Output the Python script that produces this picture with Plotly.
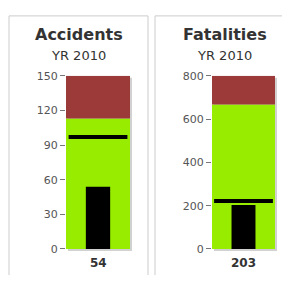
import plotly.graph_objects as go

# ---- data ----
titles = ["Accidents", "Fatalities"]
subtitles = ["YR 2010", "YR 2010"]
actual_values = [54, 203]
target_values = [97, 222]
green_upper = [113, 668]
axis_max = [150, 800]
tick_values = [[0, 30, 60, 90, 120, 150], [0, 200, 400, 600, 800]]

OFF = 8  # page body margin
W, H = 290 - 2 * OFF, 283 - 2 * OFF
GREEN = "#97ec00"
RED = "#9c3a3a"
FONT = "DejaVu Sans, Verdana, sans-serif"

def px(v):
    return (v - OFF) / W

def py(v):
    return 1 - (v - OFF) / H

# plot area pixel boxes (x0, x1) and shared y (top, bottom), in window pixels
x_boxes = [(66, 130), (212, 275)]
y_top, y_bot = 73, 255
panel_boxes = [(9, 148), (155, 294)]

fig = go.Figure()
for i in range(2):
    xa = "x" if i == 0 else "x2"
    ya = "y" if i == 0 else "y2"
    fig.add_trace(go.Bar(x=[0], y=[green_upper[i]], base=[0], width=[1],
                         marker=dict(color=GREEN, line=dict(width=0)),
                         xaxis=xa, yaxis=ya, showlegend=False, hoverinfo="skip"))
    fig.add_trace(go.Bar(x=[0], y=[axis_max[i] - green_upper[i]], base=[green_upper[i]], width=[1],
                         marker=dict(color=RED, line=dict(width=0)),
                         xaxis=xa, yaxis=ya, showlegend=False, hoverinfo="skip"))
    fig.add_trace(go.Bar(x=[0], y=[actual_values[i]], base=[0], width=[0.38],
                         marker=dict(color="#000000", line=dict(width=0)),
                         xaxis=xa, yaxis=ya, showlegend=False, hoverinfo="skip"))
    fig.add_trace(go.Scatter(x=[0], y=[target_values[i]], mode="markers",
                             marker=dict(symbol="line-ew", size=42,
                                         line=dict(width=4, color="#000000")),
                             xaxis=xa, yaxis=ya, showlegend=False, hoverinfo="skip"))

layout = dict(
    width=W, height=H, margin=dict(l=0, r=0, t=0, b=0),
    paper_bgcolor="white", plot_bgcolor="rgba(0,0,0,0)", barmode="overlay",
    showlegend=False,
)
shapes = []
annotations = []
for i in range(2):
    sfx = "" if i == 0 else "2"
    x0, x1 = x_boxes[i]
    layout["xaxis" + sfx] = dict(domain=[px(x0), px(x1)], range=[-0.5, 0.5],
                                 showticklabels=False, showgrid=False, zeroline=False,
                                 showline=False, ticks="", fixedrange=True,
                                 anchor="y" + sfx)
    layout["yaxis" + sfx] = dict(domain=[py(y_bot), py(y_top)],
                                 range=[0, axis_max[i]], tickvals=tick_values[i],
                                 ticks="outside", ticklen=5, tickcolor="#777",
                                 tickfont=dict(family=FONT, size=11, color="#555"),
                                 showgrid=False, zeroline=False, showline=False,
                                 fixedrange=True, anchor="x" + sfx)
    bx0, bx1 = panel_boxes[i]
    shapes.append(dict(type="rect", xref="paper", yref="paper",
                       x0=px(bx0), x1=px(bx1), y0=-0.2, y1=py(10),
                       line=dict(color="#cccccc", width=1), fillcolor="rgba(0,0,0,0)",
                       layer="below"))
    # soft drop shadow behind the plot rectangle
    shapes.append(dict(type="rect", xref="paper", yref="paper",
                       x0=px(x0 + 2), x1=px(x1 + 2), y0=py(y_bot + 2), y1=py(y_top + 2),
                       line=dict(width=0), fillcolor="rgba(0,0,0,0.18)", layer="below"))
    cx = px((bx0 + bx1) / 2)
    annotations.append(dict(text="<b>%s</b>" % titles[i], xref="paper", yref="paper",
                            x=cx, y=py(30), xanchor="center", yanchor="middle",
                            showarrow=False, font=dict(family=FONT, size=16, color="#333")))
    annotations.append(dict(text=subtitles[i], xref="paper", yref="paper",
                            x=cx, y=py(52), xanchor="center", yanchor="middle",
                            showarrow=False, font=dict(family=FONT, size=13, color="#333")))
    annotations.append(dict(text="<b>%d</b>" % actual_values[i], xref="x" + sfx, yref="paper",
                            x=0, y=py(270), xanchor="center", yanchor="middle",
                            showarrow=False, font=dict(family=FONT, size=12, color="#333")))
layout["shapes"] = shapes
layout["annotations"] = annotations
fig.update_layout(**layout)
fig.write_html("out.html")
